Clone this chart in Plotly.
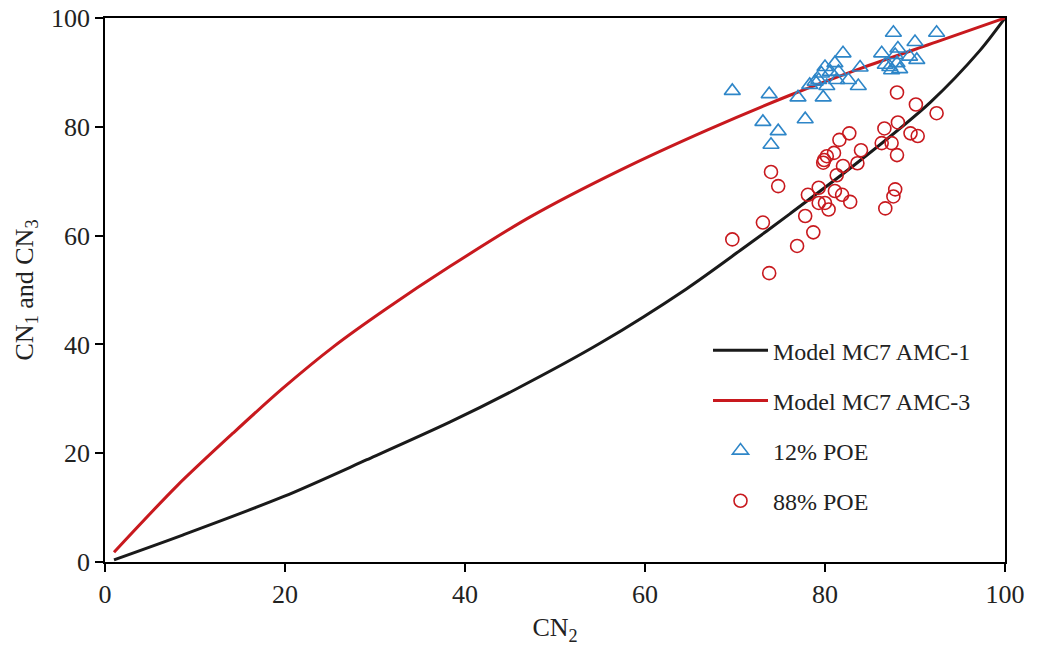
import plotly.graph_objects as go

# Model curves (CN2 -> CN1 / CN3)
amc1_cn2 = [1, 8.7, 19.8, 29.1, 38.3, 45.7, 55.0, 64.6, 70.6, 76.1, 83.9, 91.7, 97.2, 100]
amc1_cn = [0.4, 5.0, 12.0, 18.8, 25.7, 31.8, 40.2, 50.2, 57.3, 64.0, 73.8, 84.5, 94.0, 100]

amc3_cn2 = [1, 8.0, 14.3, 19.8, 25.4, 31.3, 38.3, 47.2, 57.2, 66.9, 76.1, 83.9, 92.4, 100]
amc3_cn = [1.8, 14.0, 23.8, 32.0, 39.6, 46.6, 54.3, 63.4, 72.0, 79.4, 85.8, 90.7, 95.6, 100]

# Observed points, 12% probability of exceedance
poe12_x = [69.7, 73.8, 73.1, 74.8, 74.0, 77.8, 77.0, 79.8, 78.3, 79.3, 80.2, 79.6,
           80.0, 80.6, 81.1, 81.5, 82.0, 81.3, 82.6, 83.7, 83.9, 78.9, 86.3, 87.6,
           88.1, 87.8, 86.7, 87.4, 88.0, 89.4, 90.0, 90.2, 92.4, 87.2, 88.3]
poe12_y = [86.6, 86.0, 80.9, 79.2, 76.7, 81.4, 85.4, 85.4, 87.7, 88.6, 87.5, 89.8,
           91.0, 90.1, 91.7, 90.1, 93.5, 88.6, 88.6, 87.5, 90.9, 88.3, 93.5, 97.3,
           94.4, 93.2, 91.4, 90.4, 91.7, 92.9, 95.6, 92.3, 97.3, 91.0, 90.6]

# Observed points, 88% probability of exceedance
poe88_x = [88.0, 90.1, 92.4, 86.6, 88.1, 89.5, 90.3, 86.3, 87.4, 88.0, 82.7, 81.6,
           84.0, 81.0, 80.2, 79.9, 79.8, 82.0, 83.6, 81.3, 74.0, 74.8, 78.1, 79.3,
           81.1, 81.9, 82.8, 79.3, 80.0, 80.4, 77.8, 87.8, 87.6, 86.7, 73.1, 78.7,
           69.7, 76.9, 73.8]
poe88_y = [86.3, 84.1, 82.5, 79.7, 80.8, 78.8, 78.3, 77.0, 77.0, 74.8, 78.8, 77.6,
           75.7, 75.2, 74.6, 73.9, 73.4, 72.8, 73.3, 71.1, 71.7, 69.1, 67.5, 68.8,
           68.2, 67.5, 66.2, 66.0, 66.0, 64.8, 63.6, 68.5, 67.2, 65.0, 62.4, 60.6,
           59.3, 58.1, 53.1]

axis_ticks = [0, 20, 40, 60, 80, 100]

FONT = "Liberation Serif"
BLUE = "#2e86c8"
RED = "#c8191e"

fig = go.Figure()
fig.add_trace(go.Scatter(
    x=amc1_cn2, y=amc1_cn, mode="lines", name="Model MC7 AMC-1",
    line=dict(color="#1a1a1a", width=3, shape="spline", smoothing=0.8),
    legendgroup="a", cliponaxis=False))
fig.add_trace(go.Scatter(
    x=amc3_cn2, y=amc3_cn, mode="lines", name="Model MC7 AMC-3",
    line=dict(color=RED, width=3, shape="spline", smoothing=0.8),
    legendgroup="b", cliponaxis=False))
fig.add_trace(go.Scatter(
    x=poe12_x, y=poe12_y, mode="markers", name="12% POE", legendgroup="c",
    marker=dict(symbol="triangle-up-open", size=14, color=BLUE,
                line=dict(color=BLUE, width=1.6))))
fig.add_trace(go.Scatter(
    x=poe88_x, y=poe88_y, mode="markers", name="88% POE", legendgroup="d",
    marker=dict(symbol="circle-open", size=13, color=RED,
                line=dict(color=RED, width=1.6))))

axis_common = dict(
    range=[0, 100], tickvals=axis_ticks, showgrid=False, zeroline=False,
    showline=True, linecolor="black", linewidth=1.5, mirror=True,
    ticks="outside", ticklen=8, tickwidth=1.5, tickcolor="black",
    tickfont=dict(family=FONT, size=26, color="#222"), automargin=False,
)

fig.update_xaxes(**axis_common,
                 title=dict(text="CN<sub>2</sub>", font=dict(family=FONT, size=26, color="#222"),
                            standoff=10))
fig.update_yaxes(**axis_common,
                 title=dict(text="CN<sub>1</sub> and CN<sub>3</sub>",
                            font=dict(family=FONT, size=26, color="#222"), standoff=10))

fig.update_layout(
    width=1040, height=650,
    margin=dict(l=105, r=35, t=18, b=88),
    plot_bgcolor="white", paper_bgcolor="white",
    font=dict(family=FONT, color="#222"),
    legend=dict(x=0.67, y=0.43, xanchor="left", yanchor="top",
                font=dict(family=FONT, size=24, color="#222"),
                bgcolor="rgba(0,0,0,0)", tracegroupgap=16, itemwidth=55),
)

fig.write_html("out.html")
